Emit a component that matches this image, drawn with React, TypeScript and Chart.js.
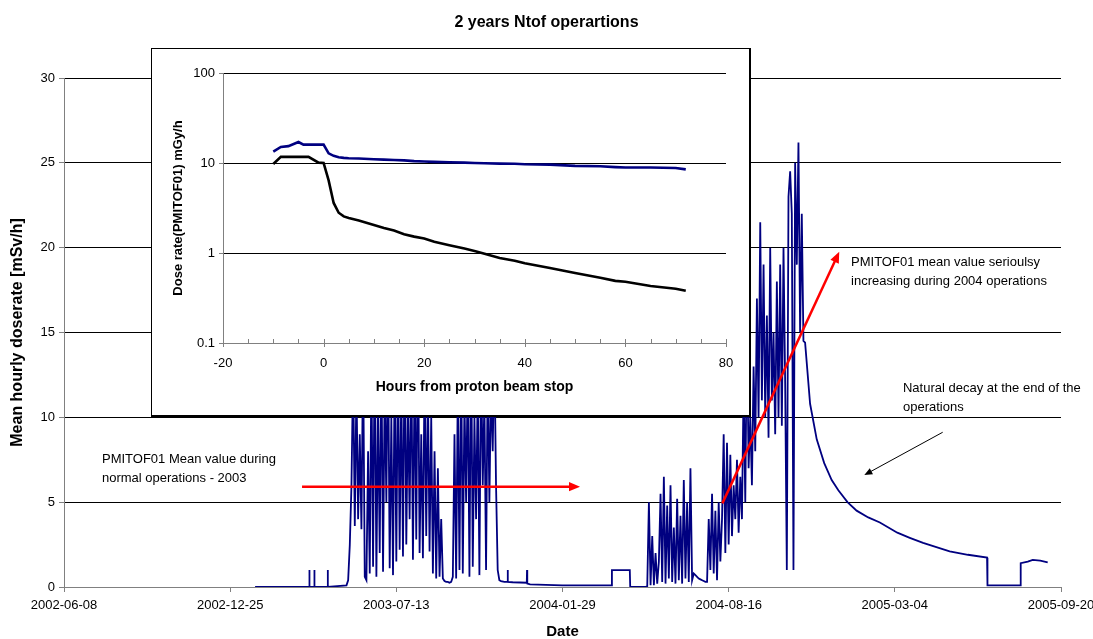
import React, { useEffect, useRef } from "react";
import { Chart, registerables } from "chart.js";

Chart.register(...registerables);

const FONT = "'Liberation Sans', Arial, Helvetica, sans-serif";

// ---------------- Main chart data ----------------
const startDateUTC = Date.UTC(2002, 5, 8); // 2002-06-08 = day 0
const axisMaxDays = 1200;
const axisStepDays = 200;
const sampleStepDays = 2;

const preRunDays = [230, 295, 295.3, 295.6, 301, 301.3, 301.6, 317.1, 317.4, 317.7, 340];
const preRunValues = [0, 0, 1.0, 0, 0, 1.0, 0, 0, 1.0, 0, 0.1];

const run2003StartDay = 342;
const run2003Values = [
  0.4, 2.5, 6,
  13, 3.6, 12, 4, 9, 3.4, 14,
  0.6, 0.4,
  8, 0.8, 13, 1.2, 15, 0.6, 11, 2, 14, 0.9, 12, 5, 15, 1.1, 10, 0.7, 13, 1.5, 14,
  2.2, 12, 1.8, 15, 2.5, 11, 4, 14, 1.6, 13, 2.8, 16, 2, 9, 1.7, 13, 3, 12, 2.1,
  10, 0.8, 8, 0.5, 7, 0.6, 4, 0.5,
  0.35, 0.3, 0.3, 0.25, 0.3, 0.6,
  9, 0.5, 12, 1, 14, 0.8, 11, 5, 13, 0.6, 15, 1.2, 10, 4, 12, 0.7, 14, 6, 11, 1, 13, 5, 12, 8, 14,
  6, 1, 0.4,
];

const shutdownDays = [526, 530, 533.8, 534, 534.3, 540, 557, 557.3, 557.6, 561, 580, 600, 620, 640, 659, 659.5, 681, 681.5, 698];
const shutdownValues = [0.35, 0.3, 0.3, 1.0, 0.3, 0.28, 0.25, 1.0, 0.2, 0.15, 0.12, 0.1, 0.1, 0.1, 0.1, 1.0, 1.0, 0, 0];

const run2004StartDay = 700;
const run2004Values = [
  0, 0.05, 5.0, 0.1, 3.0, 0.1, 2.0, 0.2, 1.5,
  5.5, 0.3, 6.5, 0.2, 4.8, 0.5, 6.0, 0.3, 3.5, 0.2, 5.2, 0.4, 4.2, 0.2, 6.3, 0.5, 5.0, 0.3, 7.0, 0.4,
  0.8, 0.7, 0.6, 0.5, 0.45, 0.4, 0.35, 0.3, 0.3,
  4.0, 1.0, 5.5, 0.8, 4.5, 0.4, 5.0, 1.5, 4.0,
  9.0, 2.0, 8.5, 2.5,
  7.8, 3.0, 6.0, 4.0, 7.5, 3.2, 6.5, 4.0,
  12.0, 5.0, 15.5, 7.0, 10.0, 6.0, 13.0, 8.0,
  17.0, 10.0, 21.5, 11.0, 19.0, 10.0,
  16.0, 8.8, 20.0, 11.0, 15.0, 9.0, 18.0, 10.0, 19.0, 9.5, 20.0, 12.0,
  1.0,
  23.0, 24.5, 22.0,
  1.0,
  25.0, 19.0, 26.2, 15.0, 22.0, 14.5,
];

const decayDays = [892, 898, 906, 915, 924, 932, 943, 954, 968, 982, 1003, 1018, 1034, 1050, 1066, 1088, 1111, 1111.5, 1151, 1151.5, 1160, 1166, 1175, 1184];
const decayValues = [14.4, 10.8, 8.7, 7.3, 6.3, 5.7, 5.0, 4.5, 4.1, 3.8, 3.2, 2.9, 2.6, 2.35, 2.1, 1.9, 1.73, 0.1, 0.1, 1.4, 1.5, 1.6, 1.55, 1.45];

// ---------------- Inset chart data ----------------
const insetHours = [-10, -8.5, -7, -5, -4, -3, -1, 0, 1, 2, 3, 4, 5, 7, 10, 12, 14, 16, 18, 20, 22, 25, 28, 30, 32, 35, 38, 40, 45, 50, 55, 58, 60, 65, 70, 72];
const insetBlue = [13.4, 15.1, 15.4, 17.1, 16, 16, 16, 16, 12.8, 12, 11.6, 11.4, 11.3, 11.2, 11.0, 10.9, 10.8, 10.7, 10.5, 10.4, 10.3, 10.2, 10.1, 10.0, 9.95, 9.85, 9.8, 9.7, 9.6, 9.3, 9.2, 9.0, 8.9, 8.9, 8.8, 8.5];
const insetBlack = [9.75, 11.7, 11.7, 11.7, 11.7, 11.7, 10.1, 10, 6.4, 3.6, 2.8, 2.55, 2.45, 2.3, 2.05, 1.9, 1.78, 1.62, 1.52, 1.45, 1.33, 1.22, 1.12, 1.05, 0.98, 0.88, 0.82, 0.77, 0.68, 0.6, 0.53, 0.49, 0.48, 0.43, 0.4, 0.38];
const insetLogTicks = [0.1, 1, 10, 100];

// ---------------- Annotations (data coordinates) ----------------
const noteTexts = [
  { day: 45.7, value: 7.54, lines: ["PMITOF01 Mean value during", "normal operations - 2003"] },
  { day: 947.3, value: 19.15, lines: ["PMITOF01 mean value serioulsy", "increasing during 2004 operations"] },
  { day: 1009.8, value: 11.73, lines: ["Natural decay at the end of the", "operations"] },
];
const noteArrows = [
  { from: [286.5, 5.91], to: [621.1, 5.91], color: "#ff0000", width: 2.5, head: 11 },
  { from: [792.4, 4.93], to: [933.1, 19.76], color: "#ff0000", width: 2.5, head: 11 },
  { from: [1057.6, 9.12], to: [963.3, 6.6], color: "#000000", width: 1, head: 8 },
];

function dayLabel(v: number) {
  return new Date(startDateUTC + v * 86400000).toISOString().slice(0, 10);
}

function drawArrow(ctx: CanvasRenderingContext2D, x1: number, y1: number, x2: number, y2: number, color: string, width: number, head: number) {
  const a = Math.atan2(y2 - y1, x2 - x1);
  const c = Math.cos(a), s = Math.sin(a);
  ctx.save();
  ctx.strokeStyle = color;
  ctx.fillStyle = color;
  ctx.lineWidth = width;
  ctx.beginPath();
  ctx.moveTo(x1, y1);
  ctx.lineTo(x2 - c * head * 0.7, y2 - s * head * 0.7);
  ctx.stroke();
  const w = head * 0.42;
  ctx.beginPath();
  ctx.moveTo(x2, y2);
  ctx.lineTo(x2 - head * c + w * s, y2 - head * s - w * c);
  ctx.lineTo(x2 - head * c - w * s, y2 - head * s + w * c);
  ctx.closePath();
  ctx.fill();
  ctx.restore();
}

const annotationPlugin = {
  id: "notes",
  afterDatasetsDraw(chart: any) {
    const { ctx, scales } = chart;
    const xs = scales.x, ys = scales.y;
    ctx.save();
    ctx.font = `13px ${FONT}`;
    ctx.fillStyle = "#000";
    ctx.textAlign = "left";
    ctx.textBaseline = "middle";
    noteTexts.forEach((n) => {
      const x = xs.getPixelForValue(n.day);
      const y = ys.getPixelForValue(n.value);
      n.lines.forEach((ln, i) => ctx.fillText(ln, x, y + i * 19.5));
    });
    ctx.restore();
    noteArrows.forEach((ar) => {
      drawArrow(
        ctx,
        xs.getPixelForValue(ar.from[0]), ys.getPixelForValue(ar.from[1]),
        xs.getPixelForValue(ar.to[0]), ys.getPixelForValue(ar.to[1]),
        ar.color, ar.width, ar.head
      );
    });
  },
};

const insetTickPlugin = {
  id: "insetTicks",
  afterDraw(chart: any) {
    const { ctx } = chart;
    const xs = chart.scales.x;
    const y = chart.chartArea.bottom;
    ctx.save();
    ctx.strokeStyle = "#808080";
    ctx.lineWidth = 1;
    xs.ticks.forEach((t: any) => {
      const x = Math.round(xs.getPixelForValue(t.value)) + 0.5;
      const major = t.value % 20 === 0;
      ctx.beginPath();
      ctx.moveTo(x, y - 4);
      ctx.lineTo(x, major ? y + 4 : y);
      ctx.stroke();
    });
    ctx.restore();
  },
};

export default function App() {
  const mainRef = useRef<HTMLCanvasElement>(null);
  const insetRef = useRef<HTMLCanvasElement>(null);

  useEffect(() => {
    const mainPoints = [
      ...preRunDays.map((d, i) => ({ x: d, y: preRunValues[i] })),
      ...run2003Values.map((v, i) => ({ x: run2003StartDay + i * sampleStepDays, y: v })),
      ...shutdownDays.map((d, i) => ({ x: d, y: shutdownValues[i] })),
      ...run2004Values.map((v, i) => ({ x: run2004StartDay + i * sampleStepDays, y: v })),
      ...decayDays.map((d, i) => ({ x: d, y: decayValues[i] })),
    ];

    const main = new Chart(mainRef.current as HTMLCanvasElement, {
      type: "line",
      data: {
        datasets: [
          {
            data: mainPoints,
            borderColor: "#000080",
            borderWidth: 1.8,
            pointRadius: 0,
            tension: 0,
          },
        ],
      },
      options: {
        animation: false,
        responsive: false,
        events: [],
        layout: { padding: { left: 0, right: 0, top: 0, bottom: 0 } },
        plugins: {
          legend: { display: false },
          tooltip: { enabled: false },
          title: {
            display: true,
            text: "2 years Ntof operartions",
            color: "#000",
            font: { family: FONT, size: 16, weight: "bold" },
            padding: { top: 13, bottom: 45.8 },
          },
        },
        scales: {
          x: {
            type: "linear",
            min: 0,
            max: axisMaxDays,
            ticks: {
              stepSize: axisStepDays,
              callback: (v: any) => dayLabel(Number(v)),
              color: "#000",
              font: { family: FONT, size: 13 },
              padding: 6,
              maxRotation: 0,
              autoSkip: false,
            },
            grid: { drawOnChartArea: false, drawTicks: true, tickLength: 5, tickColor: "#808080" },
            border: { color: "#808080" },
            title: {
              display: true,
              text: "Date",
              color: "#000",
              font: { family: FONT, size: 15, weight: "bold", lineHeight: 1.0 },
              padding: { top: 0, bottom: 0 },
            },
            afterFit: (s: any) => {
              s.height = 52;
              s.paddingLeft = 0;
              s.paddingRight = 32;
            },
          },
          y: {
            min: 0,
            max: 30,
            ticks: {
              stepSize: 5,
              color: "#000",
              font: { family: FONT, size: 13 },
              padding: 4,
            },
            grid: { color: "#000", lineWidth: 1, tickColor: "#808080", tickLength: 5 },
            border: { color: "#808080" },
            title: {
              display: true,
              text: "Mean hourly doserate [mSv/h]",
              color: "#000",
              font: { family: FONT, size: 16, weight: "bold" },
              padding: { top: 8, bottom: 0 },
            },
            afterFit: (s: any) => {
              s.width = 64;
            },
          },
        },
      },
      plugins: [annotationPlugin],
    } as any);

    const inset = new Chart(insetRef.current as HTMLCanvasElement, {
      type: "line",
      data: {
        datasets: [
          {
            data: insetHours.map((h, i) => ({ x: h, y: insetBlue[i] })),
            borderColor: "#000080",
            borderWidth: 2.6,
            pointRadius: 0,
          },
          {
            data: insetHours.map((h, i) => ({ x: h, y: insetBlack[i] })),
            borderColor: "#000000",
            borderWidth: 2.6,
            pointRadius: 0,
          },
        ],
      },
      options: {
        animation: false,
        responsive: false,
        events: [],
        layout: { padding: { left: 0, right: 23, top: 24, bottom: 0 } },
        plugins: { legend: { display: false }, tooltip: { enabled: false } },
        scales: {
          x: {
            type: "linear",
            min: -20,
            max: 80,
            ticks: {
              stepSize: 5,
              autoSkip: false,
              maxRotation: 0,
              callback: (v: any) => (Number(v) % 20 === 0 ? String(v) : ""),
              color: "#000",
              font: { family: FONT, size: 13 },
              padding: 13,
            },
            grid: { drawOnChartArea: false, drawTicks: false },
            border: { color: "#808080" },
            title: {
              display: true,
              text: "Hours from proton beam stop",
              color: "#000",
              font: { family: FONT, size: 14, weight: "bold" },
              padding: { top: 0, bottom: 19 },
            },
            afterFit: (s: any) => {
              s.height = 72;
              s.paddingLeft = 0;
              s.paddingRight = 0;
            },
          },
          y: {
            type: "logarithmic",
            min: 0.1,
            max: 100,
            afterBuildTicks: (s: any) => {
              s.ticks = insetLogTicks.map((v) => ({ value: v }));
            },
            ticks: {
              callback: (v: any) => String(v),
              color: "#000",
              font: { family: FONT, size: 13 },
              padding: 4,
            },
            grid: { color: "#000", lineWidth: 1, tickColor: "#808080", tickLength: 4 },
            border: { color: "#808080" },
            title: {
              display: true,
              text: "Dose rate(PMITOF01) mGy/h",
              color: "#000",
              font: { family: FONT, size: 13, weight: "bold" },
              padding: { top: 19, bottom: 0 },
            },
            afterFit: (s: any) => {
              s.width = 71;
            },
          },
        },
      },
      plugins: [insetTickPlugin],
    } as any);

    return () => {
      main.destroy();
      inset.destroy();
    };
  }, []);

  return (
    <div style={{ position: "fixed", left: 0, top: 0, width: 1093, height: 639, background: "#fff", overflow: "hidden" }}>
      <canvas ref={mainRef} width={1093} height={639} style={{ position: "absolute", left: 0, top: 0 }} />
      <div
        style={{
          position: "absolute",
          left: 151,
          top: 48,
          width: 597,
          height: 366,
          borderLeft: "1px solid #000",
          borderTop: "1px solid #000",
          borderRight: "2px solid #000",
          borderBottom: "2px solid #000",
          background: "#fff",
        }}
      >
        <canvas ref={insetRef} width={597} height={366} style={{ display: "block" }} />
      </div>
    </div>
  );
}
